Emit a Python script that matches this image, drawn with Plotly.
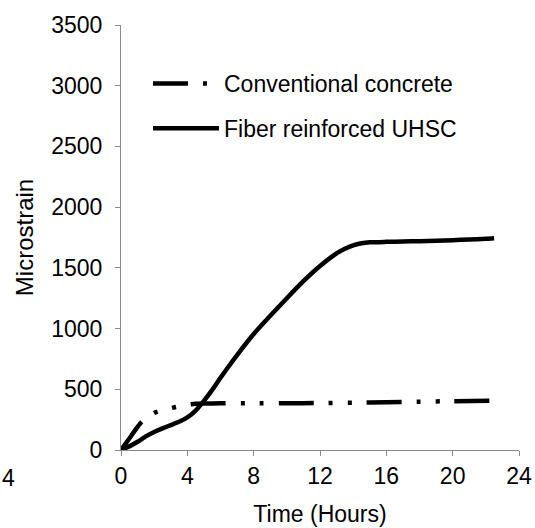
import plotly.graph_objects as go

# Conventional concrete
conv_t = [0, 0.5, 1, 1.25, 1.5, 2, 2.5, 3, 3.5, 4, 4.5, 5, 6, 8, 10, 12, 14, 16, 18, 20, 22.5]
conv_y = [0, 95, 190, 233, 262, 305, 328, 345, 360, 374, 381, 383, 384, 384, 385, 387, 390, 394, 398, 402, 406]

# Fiber reinforced UHSC
uhsc_t = [0, 0.5, 1, 1.5, 2, 2.5, 3, 3.5, 4, 4.5, 5, 5.5, 6, 6.5, 7, 8, 9, 10, 11, 12, 13, 13.5, 14, 14.5, 15,
          16, 17, 18, 19, 20, 21, 22, 22.5]
uhsc_y = [0, 30, 68, 112, 148, 178, 205, 232, 268, 325, 405, 495, 595, 690, 782, 955, 1105, 1250, 1390, 1515,
          1620, 1658, 1686, 1702, 1710, 1714, 1717, 1720, 1724, 1728, 1733, 1739, 1744]

x_ticks = [0, 4, 8, 12, 16, 20, 24]
y_ticks = [0, 500, 1000, 1500, 2000, 2500, 3000, 3500]

FONT = "Liberation Sans, Arial, sans-serif"
GREY = "#8a8a8a"

fig = go.Figure()
fig.add_trace(go.Scatter(
    x=conv_t, y=conv_y, mode="lines", name="Conventional concrete",
    legendgroup="a",
    line=dict(color="black", width=4.5, dash="35px,15px,4px,15px,4px,15px", shape="spline", smoothing=0.5),
))
fig.add_trace(go.Scatter(
    x=uhsc_t, y=uhsc_y, mode="lines", name="Fiber reinforced UHSC",
    legendgroup="b",
    line=dict(color="black", width=4.5, shape="spline", smoothing=0.5),
))

fig.update_layout(
    width=535, height=528,
    margin=dict(l=121, r=16, t=25, b=78, autoexpand=False),
    paper_bgcolor="white", plot_bgcolor="white",
    font=dict(family=FONT, size=23, color="black"),
    showlegend=True,
    legend=dict(
        x=(148 - 121) / 398, y=(450 - 62) / 425, xanchor="left", yanchor="top",
        bgcolor="rgba(0,0,0,0)", borderwidth=0,
        font=dict(family=FONT, size=23, color="black"),
        traceorder="grouped", tracegroupgap=12, itemwidth=66,
    ),
    xaxis=dict(
        range=[0, 24], tickmode="array", tickvals=x_ticks, ticktext=[str(v) for v in x_ticks],
        showgrid=False, zeroline=False, showline=True, linecolor=GREY, linewidth=1,
        ticks="outside", ticklen=5, tickcolor=GREY, tickwidth=1, automargin=False,
        tickfont=dict(family=FONT, size=23, color="black"),
        title=dict(text="Time (Hours)", font=dict(family=FONT, size=23, color="black"), standoff=18),
    ),
    yaxis=dict(
        range=[0, 3500], tickmode="array", tickvals=y_ticks, ticktext=[str(v) for v in y_ticks],
        showgrid=False, zeroline=False, showline=True, linecolor=GREY, linewidth=1,
        ticks="outside", ticklen=5, tickcolor=GREY, tickwidth=1, automargin=False,
        tickfont=dict(family=FONT, size=23, color="black"),
        ticklabelstandoff=8,
        title=dict(text="Microstrain", font=dict(family=FONT, size=24, color="black"), standoff=10),
    ),
    annotations=[dict(
        text="4", xref="paper", yref="paper", x=(0 - 121) / 398, y=(450 - 478) / 425,
        xanchor="left", yanchor="middle", showarrow=False,
        font=dict(family=FONT, size=23, color="black"),
    )],
)

fig.write_html("out.html", config={"displayModeBar": False},
               post_script="document.body.style.margin='0px';")
